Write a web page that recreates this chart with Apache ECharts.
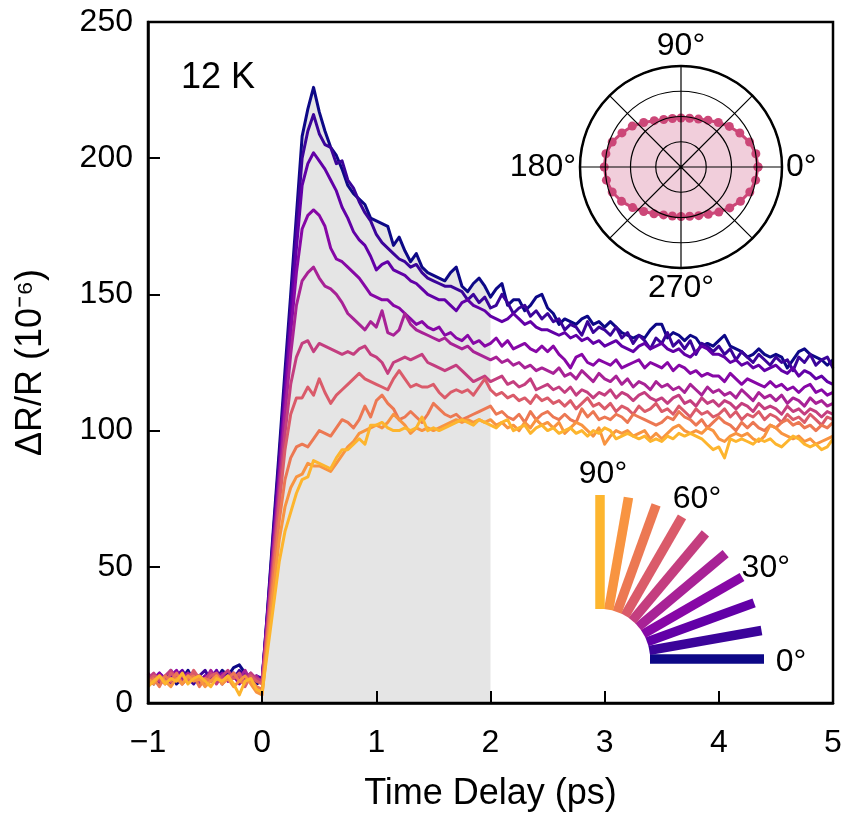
<!DOCTYPE html>
<html>
<head>
<meta charset="utf-8">
<script src="https://cdn.jsdelivr.net/npm/echarts@6/dist/echarts.min.js"></script>
<style>
html,body{margin:0;padding:0;background:#fff;}
#chart{width:845px;height:817px;}
</style>
</head>
<body>
<div id="chart"></div>
<script>
// ---------- DATA ----------
// time grid: -1 ps to 5 ps, 0.05 ps steps (121 points)
const tStart = -1, tStep = 0.05, nPts = 121;
const time = [];
for (let k = 0; k < nPts; k++) time.push(+(tStart + k * tStep).toFixed(2));

const xTicks = [-1, 0, 1, 2, 3, 4, 5];
const yTicks = [0, 50, 100, 150, 200, 250];

// pump polarization angles (degrees) of the ten traces
const pumpAngles = [0, 10, 20, 30, 40, 50, 60, 70, 80, 90];
const fanLabelAngles = [0, 30, 60, 90];

// ΔR/R traces (10^-6), one per angle
const trace0 = [9,7,10,8,11,7,9,12,8,10,7,11,9,12,10,13,14,11,9,7,
 8,36,65,93,122,150,179,208,218,226,
 217,210,204,201,196,190,187,185,183,178,
 177,176,175,168,171,166,162,165,160,158,
 157,156,155,158,160,153,151,154,156,153,
 149,152,154,146,148,148,144,146,149,150,
 145,143,139,141,140,139,141,142,139,140,
 138,140,138,136,135,134,135,134,137,139,
 139,134,136,135,133,135,134,131,132,131,
 133,135,131,130,129,127,128,130,128,127,
 128,127,123,126,129,130,128,127,126,124,126];
const trace10 = [8,10,7,9,12,8,11,9,7,10,12,8,10,7,11,9,12,10,8,10,
 9,35,63,90,118,146,174,200,210,216,
 209,205,204,198,199,192,189,184,180,177,
 172,169,167,165,163,162,160,161,158,156,
 155,154,153,153,152,151,148,150,147,149,
 145,146,150,147,143,145,146,142,144,141,
 143,140,141,137,139,138,135,140,136,138,
 137,135,138,134,136,132,135,133,130,134,
 132,136,131,133,130,133,128,132,131,129,
 131,128,130,126,129,127,125,128,126,124,
 127,125,126,122,127,125,128,124,126,127,123];
const trace20 = [10,8,11,9,7,10,12,9,11,8,10,9,12,8,10,11,9,8,10,9,
 8,34,61,87,114,141,167,190,198,202,
 199,196,192,188,182,178,173,170,168,164,
 159,161,162,159,158,157,155,154,152,150,
 149,148,148,146,144,147,148,146,145,144,
 142,141,140,141,143,141,139,140,138,137,
 137,136,135,136,134,135,133,134,132,133,
 131,132,133,131,130,129,131,132,130,131,
 132,130,129,130,128,127,129,131,130,128,
 128,127,125,126,124,125,123,124,122,123,
 124,122,121,123,120,122,121,119,120,118,117];
const trace30 = [7,9,11,8,10,12,8,9,11,7,10,8,9,11,8,10,7,9,11,8,
 9,33,59,84,110,136,158,174,179,181,
 179,175,167,163,162,160,158,156,153,150,
 149,148,148,146,145,143,141,139,140,138,
 137,138,135,136,134,133,135,132,133,131,
 132,134,131,133,130,131,132,130,129,131,
 129,131,128,126,123,127,128,125,124,126,
 125,124,126,123,124,125,126,123,125,124,
 123,125,122,124,123,121,122,120,121,120,
 120,118,121,119,117,119,118,117,116,118,
 116,117,115,116,114,116,117,114,115,113,114];
const trace40 = [11,8,10,9,7,10,8,11,9,10,8,12,9,10,8,11,9,12,8,10,
 7,32,57,81,106,128,146,155,158,160,
 156,153,152,150,147,143,141,139,137,140,
 138,144,136,135,137,143,139,137,136,135,
 134,133,134,132,131,130,131,129,128,127,
 126,127,125,126,124,125,123,124,122,123,
 122,121,123,120,121,119,122,120,118,121,
 119,118,120,117,119,116,118,117,115,118,
 116,117,115,116,114,117,115,113,116,114,
 115,113,114,112,115,113,111,114,112,113,
 111,113,110,112,111,109,112,110,111,109,110];
const trace50 = [9,11,8,10,12,9,7,10,11,8,9,11,7,10,12,9,10,8,11,9,
 8,30,54,77,99,117,127,132,133,129,
 132,131,130,129,128,129,128,130,131,128,
 127,125,121,125,126,127,126,127,128,125,
 124,123,122,123,124,122,120,118,119,120,
 118,119,120,117,118,116,117,119,115,116,
 117,115,116,114,116,113,115,114,112,114,
 113,115,112,114,113,111,113,114,112,111,
 112,110,112,113,110,111,109,112,110,111,
 109,111,110,108,110,109,107,110,108,109,
 108,106,109,107,108,106,108,107,105,107,106];
const trace60 = [8,10,9,7,11,9,10,8,12,9,7,10,11,8,10,9,11,6,10,8,
 7,28,51,73,93,106,112,112,116,113,
 119,114,110,113,115,117,119,121,119,118,
 117,116,115,119,122,119,116,117,116,116,
 117,114,112,114,115,114,115,113,116,119,
 115,113,114,112,113,111,112,110,113,111,
 112,110,111,109,111,108,110,112,109,110,
 108,110,107,109,108,106,109,107,108,110,
 107,108,106,109,107,105,108,106,107,105,
 106,108,105,107,104,106,105,107,104,106,
 105,103,106,104,105,103,106,104,102,105,104];
const trace70 = [7,9,6,10,8,11,7,9,10,6,9,8,10,7,9,11,8,7,9,6,
 5,26,47,67,82,90,94,95,94,97,
 100,99,98,101,104,103,101,104,109,105,
 111,113,110,108,104,105,107,105,103,106,
 110,108,106,105,106,104,105,106,107,108,
 109,106,107,105,104,106,103,107,104,106,
 107,105,104,106,104,103,108,105,107,104,
 105,104,106,105,103,106,105,104,103,102,
 103,105,104,107,105,104,102,104,101,103,
 105,103,102,100,103,101,103,101,100,102,
 101,103,104,102,103,101,102,100,102,101,103];
const trace80 = [9,7,10,8,6,9,7,10,8,9,6,8,10,7,9,6,8,10,7,4,
 3,23,42,60,72,79,83,84,88,87,
 87,86,85,88,91,94,96,99,100,101,
 102,101,103,106,104,102,99,101,100,101,
 100,101,102,103,104,103,104,103,104,103,
 104,102,103,101,102,100,103,101,104,102,
 103,101,103,99,101,103,102,100,98,101,
 95,98,100,99,100,98,99,100,97,99,
 97,99,101,102,100,99,100,99,101,100,
 97,96,98,99,98,99,97,96,98,102,
 101,99,98,97,98,96,97,95,96,97,98];
const trace90 = [6,8,10,7,9,8,11,7,9,10,8,6,9,8,10,7,3,8,9,5,
 4,20,36,52,63,70,77,82,83,89,
 88,87,86,90,93,93,95,97,95,102,
 102,103,101,100,100,101,100,101,105,100,
 101,100,101,102,103,104,103,102,104,103,
 102,101,103,104,100,101,102,99,101,102,
 100,101,99,100,101,99,100,98,100,99,
 101,100,97,98,99,98,97,98,96,97,
 96,98,97,99,98,99,98,97,95,93,
 94,90,97,96,97,96,95,97,96,97,
 95,94,96,98,97,95,94,95,93,94,97];
const traces = [trace0, trace10, trace20, trace30, trace40, trace50, trace60, trace70, trace80, trace90];

// shaded window (ps)
const shadeFrom = 0, shadeTo = 2;

// polar inset: angle (deg) and amplitude (radius units, outer ring = 4)
const polarAngles = [0,10,20,30,40,50,60,70,80,90,100,110,120,130,140,150,160,170,
  180,190,200,210,220,230,240,250,260,270,280,290,300,310,320,330,340,350];
const polarRadii = [3.05,3.01,2.89,2.69,2.50,2.30,2.14,2.02,1.96,1.94,1.95,2.00,2.12,2.30,2.52,2.70,2.90,3.02,
  3.04,3.00,2.90,2.72,2.50,2.30,2.14,2.02,1.97,1.96,1.98,2.05,2.16,2.33,2.52,2.72,2.90,3.00];

// ---------- STYLE ----------
const colors = ['#0d0887','#3b049a','#6200a7','#8707a6','#a82296','#c43e7f','#da5b6a','#ec7853','#f89441','#fdb52e'];
const FONT = 'Liberation Sans, Arial, Helvetica, sans-serif';

const chart = echarts.init(document.getElementById('chart'), null, {renderer: 'canvas'});

const series = [];
// grey shaded region under the top trace between shadeFrom and shadeTo
series.push({
  type: 'line', xAxisIndex: 0, yAxisIndex: 0, silent: true,
  data: time.map((t, k) => [t, trace0[k]]).filter(p => p[0] >= shadeFrom - 1e-9 && p[0] <= shadeTo + 1e-9),
  symbol: 'none', lineStyle: {width: 0, opacity: 0},
  areaStyle: {color: '#e5e5e5', opacity: 1}, z: 1
});
traces.forEach((tr, i) => {
  series.push({
    type: 'line', xAxisIndex: 0, yAxisIndex: 0, silent: true,
    data: time.map((t, k) => [t, tr[k]]),
    symbol: 'none', lineStyle: {color: colors[i], width: 3, join: 'round'},
    z: 3 + i
  });
});
// polar inset
series.push({
  type: 'line', coordinateSystem: 'polar', polarIndex: 0, silent: true,
  data: polarRadii.map((r, i) => [r, polarAngles[i]]).concat([[polarRadii[0], polarAngles[0] + 360]]),
  symbol: 'circle', symbolSize: 9, showAllSymbol: true,
  itemStyle: {color: '#cc4778'},
  lineStyle: {color: '#cc4778', width: 3},
  areaStyle: {color: 'rgba(204,71,120,0.38)'},
  z: 20
});
// legend fan (bars drawn on a second polar system, radius in px units)
pumpAngles.forEach((a, i) => {
  series.push({
    type: 'line', coordinateSystem: 'polar', polarIndex: 1, silent: true,
    data: [[50, a], [164, a]], symbol: 'none',
    lineStyle: {color: colors[i], width: 9.5, cap: 'butt'}, z: 20
  });
});
series.push({
  type: 'scatter', coordinateSystem: 'polar', polarIndex: 1, silent: true,
  data: fanLabelAngles.map(a => [188, a]),
  symbolSize: 2, itemStyle: {color: 'rgba(255,255,255,0)', opacity: 1},
  label: {show: true, position: 'inside', offset: [3, 3], formatter: p => p.value[1] + '°',
    fontSize: 32, color: '#000', opacity: 1, fontFamily: FONT},
  z: 21
});

const option = {
  animation: false,
  backgroundColor: '#fff',
  textStyle: {fontFamily: FONT},
  grid: {left: 148, right: 12, top: 22, bottom: 112, show: true, borderColor: '#000', borderWidth: 2.5, backgroundColor: 'transparent', z: 30},
  xAxis: {
    type: 'value', min: xTicks[0], max: xTicks[xTicks.length - 1], interval: 1,
    name: 'Time Delay (ps)', nameLocation: 'middle', nameGap: 73,
    nameTextStyle: {fontSize: 36, color: '#000', fontFamily: FONT},
    axisLine: {onZero: false, lineStyle: {color: '#000', width: 2.5}},
    axisTick: {inside: true, length: 12, lineStyle: {color: '#000', width: 2}},
    axisLabel: {fontSize: 32, color: '#000', margin: 24, fontFamily: FONT,
      formatter: v => (v < 0 ? '\u2212' + Math.abs(v) : '' + v)},
    splitLine: {show: false}, z: 30
  },
  yAxis: {
    type: 'value', min: yTicks[0], max: yTicks[yTicks.length - 1], interval: 50,
    name: 'ΔR/R (10⁻⁶)', nameLocation: 'middle', nameGap: 99,
    nameTextStyle: {fontSize: 36, color: '#000', fontFamily: FONT},
    axisLine: {onZero: false, lineStyle: {color: '#000', width: 2.5}},
    axisTick: {inside: true, length: 12, lineStyle: {color: '#000', width: 2}},
    axisLabel: {fontSize: 32, color: '#000', margin: 15, fontFamily: FONT},
    splitLine: {show: false}, z: 30
  },
  polar: [
    {center: [681, 167], radius: 101},
    {center: [600, 659], radius: 200}
  ],
  angleAxis: [
    {polarIndex: 0, type: 'value', min: 0, max: 360, interval: 45, startAngle: 0, clockwise: false,
     axisLine: {lineStyle: {color: '#000', width: 2.5}},
     axisTick: {show: false},
     splitLine: {show: true, lineStyle: {color: '#000', width: 1.2}},
     axisLabel: {show: true, margin: 4, fontSize: 32, color: '#000', fontFamily: FONT,
       formatter: v => ((v % 90 === 0 && v < 360) ? v + '°' : '')},
     z: 25},
    {polarIndex: 1, type: 'value', min: 0, max: 360, startAngle: 0, clockwise: false, show: false}
  ],
  radiusAxis: [
    {polarIndex: 0, type: 'value', min: 0, max: 4, interval: 1,
     axisLine: {show: false}, axisTick: {show: false}, axisLabel: {show: false},
     splitLine: {show: true, lineStyle: {color: '#000', width: 1.2}}, z: 25},
    {polarIndex: 1, type: 'value', min: 0, max: 200, show: false}
  ],
  graphic: [
    {type: 'text', left: 181, top: 60, z: 50,
     style: {text: '12 K', fontSize: 36, fill: '#000', fontFamily: FONT}}
  ],
  series: series
};
chart.setOption(option);
</script>
</body>
</html>
